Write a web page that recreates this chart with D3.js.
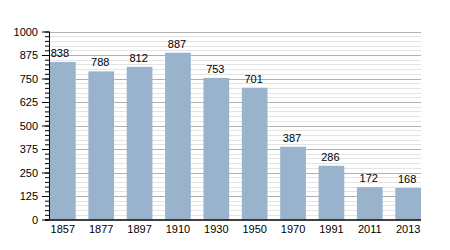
<!DOCTYPE html>
<html>
<head>
<meta charset="utf-8">
<script src="https://cdn.jsdelivr.net/npm/d3@7"></script>
<style>
body { margin: 0; background: #fff; }
svg { display: block; font-family: "Liberation Sans", Arial, sans-serif; }
</style>
</head>
<body>
<svg width="450" height="250"></svg>
<script>
var years = ["1857", "1877", "1897", "1910", "1930", "1950", "1970", "1991", "2011", "2013"];
var population = [838, 788, 812, 887, 753, 701, 387, 286, 172, 168];
var majorTicks = [0, 125, 250, 375, 500, 625, 750, 875, 1000];

var svg = d3.select("svg");
var plotLeft = 49, plotRight = 421, plotTop = 31.5, plotBottom = 219.5;

var xScale = d3.scaleBand()
  .domain(years)
  .range([plotLeft + 1, plotRight])
  .paddingInner(0.33)
  .paddingOuter(0);

var yScale = d3.scaleLinear()
  .domain([0, 1000])
  .range([plotBottom, plotTop]);

// minor grid every 25
var minor = d3.range(25, 1001, 25).filter(function(d) { return d % 125 != 0; });
svg.append("g").selectAll("line")
  .data(minor)
  .enter().append("line")
  .attr("x1", plotLeft).attr("x2", plotRight)
  .attr("y1", function(d) { return Math.round(yScale(d)) + 0.5; })
  .attr("y2", function(d) { return Math.round(yScale(d)) + 0.5; })
  .attr("stroke", "#e4e4e4");

svg.append("g").selectAll("line")
  .data(majorTicks.slice(1))
  .enter().append("line")
  .attr("x1", plotLeft).attr("x2", plotRight)
  .attr("y1", function(d) { return Math.round(yScale(d)) + 0.5; })
  .attr("y2", function(d) { return Math.round(yScale(d)) + 0.5; })
  .attr("stroke", "#b0b0b0");

// bars
svg.append("g").selectAll("rect")
  .data(population)
  .enter().append("rect")
  .attr("x", function(d, i) { return xScale(years[i]); })
  .attr("width", xScale.bandwidth())
  .attr("y", function(d) { return yScale(d); })
  .attr("height", function(d) { return yScale(0) - yScale(d); })
  .attr("fill", "#9ab3cd");

// value labels
svg.append("g").selectAll("text")
  .data(population)
  .enter().append("text")
  .attr("x", function(d, i) { return xScale(years[i]) + xScale.bandwidth() / 2 - (i == 0 ? 3 : 1); })
  .attr("y", function(d) { return yScale(d) - 5; })
  .attr("text-anchor", "middle")
  .attr("font-size", "11px")
  .attr("fill", "#000")
  .text(function(d) { return d; });

// y axis, minor ticks
var yMinor = d3.axisLeft(yScale).tickValues(d3.range(0, 1001, 25)).tickSize(4).tickFormat("");
var gm = svg.append("g").attr("transform", "translate(" + plotLeft + ",0)").call(yMinor);
gm.select(".domain").remove();
gm.selectAll("line").attr("stroke", "#000");

var yAxis = d3.axisLeft(yScale).tickValues(majorTicks).tickSize(7).tickPadding(4).tickFormat(d3.format("d"));
var gy = svg.append("g").attr("transform", "translate(" + plotLeft + ",0)").call(yAxis);
gy.selectAll("text").attr("font-size", "11px").attr("font-family", "Liberation Sans, Arial, sans-serif").attr("fill", "#000");
gy.select(".domain").attr("d", "M0.5," + plotBottom + "V" + plotTop);
gy.selectAll("line, path").attr("stroke", "#000");

var xAxis = d3.axisBottom(xScale).tickSize(0).tickPadding(5);
var gx = svg.append("g").attr("transform", "translate(0," + (plotBottom + 0.5) + ")").call(xAxis);
gx.select(".domain").attr("d", "M" + (plotLeft - 4) + ",0H" + plotRight).attr("stroke", "#000").attr("stroke-width", 1.5);
gx.selectAll("text").attr("font-size", "11px").attr("font-family", "Liberation Sans, Arial, sans-serif").attr("fill", "#000");
</script>
</body>
</html>
